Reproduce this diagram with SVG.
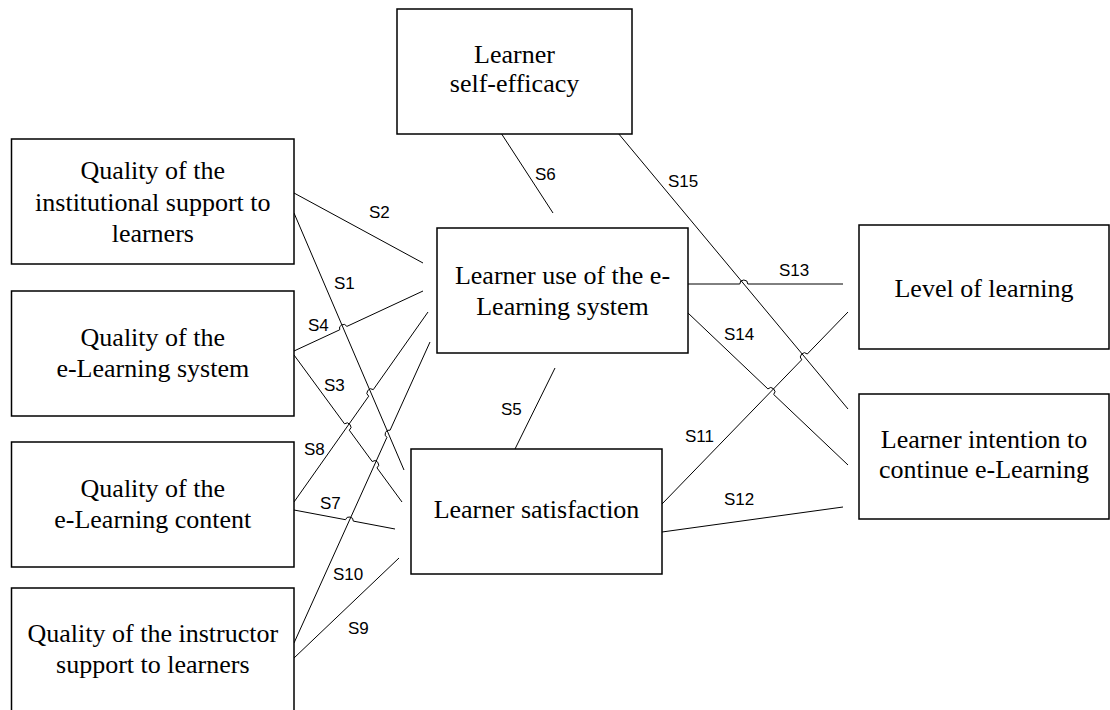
<svg xmlns="http://www.w3.org/2000/svg" width="1110" height="710" viewBox="0 0 1110 710">
  <style>
    .box { fill: #ffffff; stroke: #000000; stroke-width: 1.5; }
    .lbl { font-family: "Liberation Serif", "Times New Roman", serif; font-size: 26px; fill: #000000; text-anchor: middle; }
    .edge { fill: none; stroke: #000000; stroke-width: 1; }
    .tag { font-family: "Liberation Sans", Arial, sans-serif; font-size: 17px; fill: #000000; }
  </style>
  <rect width="1110" height="710" fill="#ffffff"/>

  <!-- connectors (line jumps drawn as small arcs) -->
  <g id="connectors">
    <path class="edge" d="M294 213 L404 470"/>
    <path class="edge" d="M294 193 L423 263"/>
    <path class="edge" d="M294 355 L344.5 423.8 A4 4 0 0 1 349.3 430.2 L372.2 461.5 A4 4 0 0 1 377 467.9 L402 502"/>
    <path class="edge" d="M294 351 L339.7 329.8 A4 4 0 0 1 346.9 326.4 L423 291"/>
    <path class="edge" d="M515 449 L555 368"/>
    <path class="edge" d="M501 133 L553 213"/>
    <path class="edge" d="M294 510 L345.5 519.7 A4 4 0 0 1 353.3 521.1 L395 529"/>
    <path class="edge" d="M294 502 L368.7 396.2 A4 4 0 0 1 373.3 389.6 L428 312"/>
    <path class="edge" d="M294 658 L399 558"/>
    <path class="edge" d="M294 643 L386.9 437.4 A4 4 0 0 1 390.1 430.2 L430 342"/>
    <path class="edge" d="M662 504 L801.7 359.8 A4 4 0 0 1 807.3 354 L848 312"/>
    <path class="edge" d="M662 532 L843 507"/>
    <path class="edge" d="M688 284 L739.8 284 A4 4 0 0 1 747.8 284 L843 284"/>
    <path class="edge" d="M688 313 L767.9 388.9 A4 4 0 0 1 773.7 394.5 L848 465"/>
    <path class="edge" d="M618 133 L848 409"/>

    <text class="tag" x="334" y="289">S1</text>
    <text class="tag" x="369" y="218">S2</text>
    <text class="tag" x="324" y="391">S3</text>
    <text class="tag" x="308" y="331">S4</text>
    <text class="tag" x="501" y="415">S5</text>
    <text class="tag" x="535" y="180">S6</text>
    <text class="tag" x="320" y="509">S7</text>
    <text class="tag" x="304" y="455">S8</text>
    <text class="tag" x="348" y="634">S9</text>
    <text class="tag" x="333" y="580">S10</text>
    <text class="tag" x="685" y="442">S11</text>
    <text class="tag" x="724" y="505">S12</text>
    <text class="tag" x="779" y="276">S13</text>
    <text class="tag" x="724" y="340">S14</text>
    <text class="tag" x="668" y="187">S15</text>
  </g>

  <g id="self-efficacy">
    <rect class="box" x="397" y="9" width="235" height="125"/>
    <text class="lbl" x="514.5" y="63">Learner</text>
    <text class="lbl" x="514.5" y="92">self-efficacy</text>
  </g>

  <g id="institutional-support">
    <rect class="box" x="11.5" y="139" width="282.5" height="125"/>
    <text class="lbl" x="152.8" y="179">Quality of the</text>
    <text class="lbl" x="152.8" y="210.5">institutional support to</text>
    <text class="lbl" x="152.8" y="241.5">learners</text>
  </g>

  <g id="system-quality">
    <rect class="box" x="11.5" y="291" width="282.5" height="125"/>
    <text class="lbl" x="152.8" y="345.5">Quality of the</text>
    <text class="lbl" x="152.8" y="376.5">e-Learning system</text>
  </g>

  <g id="content-quality">
    <rect class="box" x="11.5" y="442" width="282.5" height="125"/>
    <text class="lbl" x="152.8" y="497">Quality of the</text>
    <text class="lbl" x="152.8" y="528">e-Learning content</text>
  </g>

  <g id="instructor-support">
    <rect class="box" x="11.5" y="588" width="282.5" height="130"/>
    <text class="lbl" x="152.8" y="641.5">Quality of the instructor</text>
    <text class="lbl" x="152.8" y="672.5">support to learners</text>
  </g>

  <g id="learner-use">
    <rect class="box" x="437" y="228" width="251" height="125"/>
    <text class="lbl" x="562.5" y="283.5">Learner use of the e-</text>
    <text class="lbl" x="562.5" y="315">Learning system</text>
  </g>

  <g id="satisfaction">
    <rect class="box" x="411" y="449" width="251" height="125"/>
    <text class="lbl" x="536.5" y="518">Learner satisfaction</text>
  </g>

  <g id="level-of-learning">
    <rect class="box" x="859" y="225" width="250" height="124"/>
    <text class="lbl" x="984" y="296.5">Level of learning</text>
  </g>

  <g id="intention">
    <rect class="box" x="859" y="394" width="250" height="125"/>
    <text class="lbl" x="984" y="448">Learner intention to</text>
    <text class="lbl" x="984" y="478">continue e-Learning</text>
  </g>
</svg>
